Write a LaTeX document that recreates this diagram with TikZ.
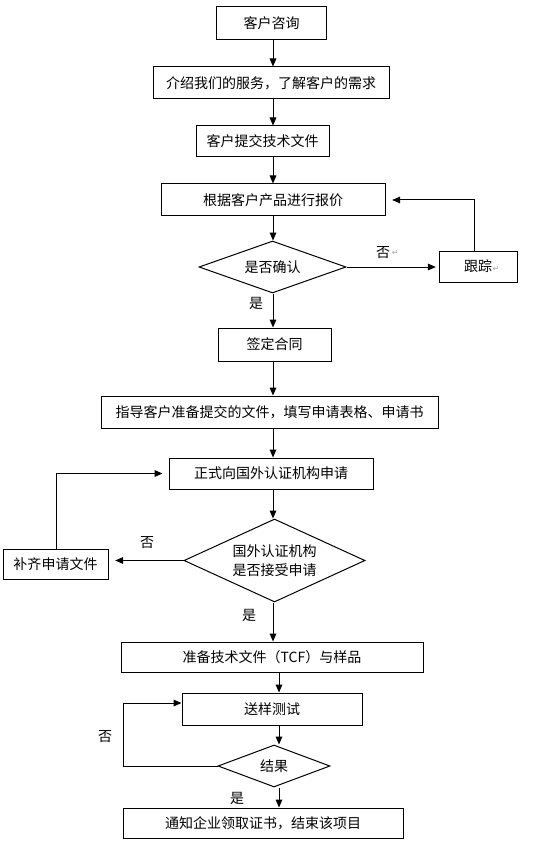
\documentclass[tikz,border=0pt]{standalone}
\usepackage{fontspec}
\newfontfamily\cjk{Noto Sans CJK SC}
\newfontfamily\dv{DejaVu Sans}
\usetikzlibrary{shapes.geometric,arrows.meta}
\begin{document}
\begin{tikzpicture}[x=0.75pt,y=-0.75pt,
  font=\cjk\fontsize{10.5}{14}\selectfont,
  box/.style args={#1/#2}{draw,line width=0.75pt,rectangle,inner sep=0pt,minimum width=#1pt,minimum height=#2pt},
  dia/.style args={#1/#2/#3}{draw,line width=0.75pt,diamond,inner sep=0pt,minimum width=#1pt,minimum height=#2pt,aspect=#3,align=center},
  arr/.style={draw,line width=0.75pt,-{Triangle[length=6pt,width=5pt]}},
  lbl/.style={inner sep=0pt},
  pmark/.style={inner sep=0pt,text=gray!70,font=\dv\fontsize{6}{6}\selectfont}]
\useasboundingbox (0,0) rectangle (550,859);
\fill[white] (0,0) rectangle (550,859);
% columns
\coordinate (c1) at (273,0);
\coordinate (c2) at (279,0);
\coordinate (l3) at (123,0);
% nodes
\node[box=82.5/24.75] (b1) at (271.5,23.5) {客户咨询};
\node[box=177/24] (b2) at (271,83) {介绍我们的服务，了解客户的需求};
\node[box=99.75/23.25] (b3) at (262.5,141.5) {客户提交技术文件};
\node[box=168/24] (b4) at (273,200) {根据客户产品进行报价};
\node[dia=110.25/39/2.827] (d1) at (272.5,267) {是否确认};
\node[box=58.5/23.25] (gz) at (478,266.5) {跟踪\rlap{\hspace{0.5pt}\dv\fontsize{6}{6}\selectfont\color{gray!70}↵}};
\node[box=84.75/24.75] (qd) at (274.5,344.5) {签定合同};
\node[box=252.75/24] (zd) at (269.5,412) {指导客户准备提交的文件，填写申请表格、申请书};
\node[box=153/23.25] (zs) at (271,473.5) {正式向国外认证机构申请};
\node[dia=135.75/62.25/2.181] (d2) at (274.5,560.5) {国外认证机构\\是否接受申请};
\node[box=78.75/22.5] (bq) at (55.5,564) {补齐申请文件};
\node[box=226.5/22.5] (tcf) at (272,657) {准备技术文件（TCF）与样品};
\node[box=135/24] (sy) at (272,709) {送样测试};
\node[dia=84/31.5/2.667] (d3) at (274,766) {结果};
\node[box=210/22.5] (tz) at (263,823) {通知企业领取证书，结束该项目};
% labels
\node[lbl] (n1) at (383,253) {否};
\node[pmark,anchor=west] (n1p) at ([xshift=1pt]n1.east) {↵};
\node[lbl] (y1) at (256,303) {是};
\node[lbl] (n2) at (147,543) {否};
\node[lbl] (y2) at (249,615) {是};
\node[lbl] (n3) at (105,737) {否};
\node[lbl] (y3) at (237,798) {是};
% main flow
\draw[arr] (b1.south -| c1) -- (b2.north -| c1);
\draw[arr] (b2.south -| c1) -- (b3.north -| c1);
\draw[arr] (b3.south -| c1) -- (b4.north -| c1);
\draw[arr] (b4.south -| c1) -- (d1.north -| c1);
\draw[arr] (d1.south -| c1) -- (qd.north -| c1);
\draw[arr] (qd.south -| c1) -- (zd.north -| c1);
\draw[arr] (zd.south -| c1) -- (zs.north -| c1);
\draw[arr] (zs.south -| c1) -- (d2.north -| c1);
\draw[arr] (d2.south -| c1) -- (tcf.north -| c1);
\draw[arr] (tcf.south -| c2) -- (sy.north -| c2);
\draw[arr] (sy.south -| c2) -- (d3.north -| c2);
\draw[arr] (d3.south -| c2) -- (tz.north -| c2);
% branches
\draw[arr,shorten >=2pt] (d1.east) -- (d1.east -| gz.west);
\draw[arr,shorten >=5pt] ([xshift=-3pt]gz.north) |- (b4.east);
\draw[arr,shorten >=5pt] (d2.west) -- (d2.west -| bq.east);
\draw[arr,shorten >=4.5pt] ([xshift=1pt]bq.north) |- (zs.west);
\draw[arr] (d3.west) -- (d3.west -| l3) |- ([yshift=4.5pt]sy.west);
\end{tikzpicture}
\end{document}
